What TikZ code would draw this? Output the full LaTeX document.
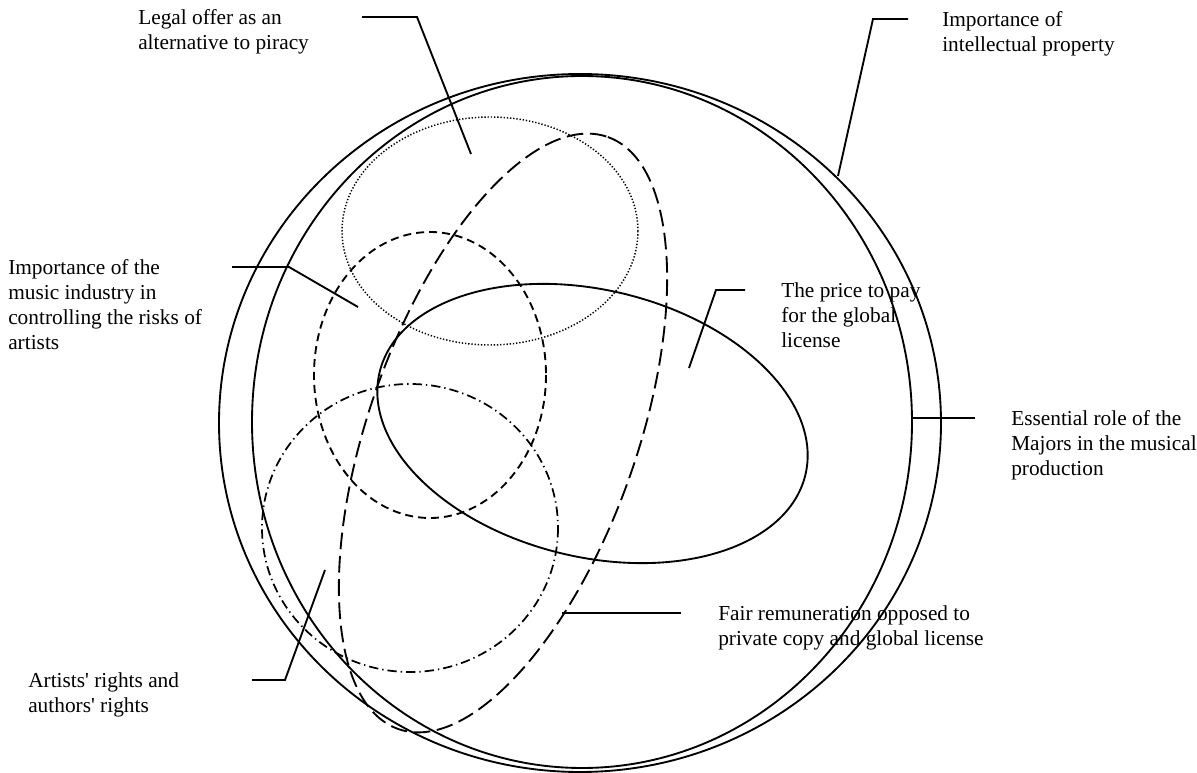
\documentclass[tikz,border=0pt]{standalone}
\usepackage{fontspec}
\setmainfont{Liberation Serif}
\usepackage{tikz}
\tikzstyle{labeltext} = [anchor=north west, inner sep=0pt, align=left, font=\fontsize{16}{18.75}\selectfont]
\tikzstyle{leader} = [line width=1.4pt]
\tikzstyle{solidset} = [line width=1.4pt]
\tikzstyle{dotset} = [line width=1.1pt, dash pattern=on 1pt off 1.4pt]
\tikzstyle{dashset} = [line width=1.4pt, dash pattern=on 6pt off 3.75pt]
\tikzstyle{longdashset} = [line width=1.4pt, dash pattern=on 12.5pt off 5pt]
\tikzstyle{dashdotset} = [line width=1.3pt, dash pattern=on 7pt off 3pt on 1pt off 3pt]

\begin{document}
\begin{tikzpicture}[x=0.75pt, y=-0.75pt]
\useasboundingbox (0,0) rectangle (1197,773);

% the sets
\draw [solidset] (580,423) ellipse [x radius=361, y radius=349];
\draw [solidset] (582,422) ellipse [x radius=330, y radius=346];
\draw [dotset] (490,231) ellipse [x radius=148, y radius=114];
\draw [dashset] (430,375) ellipse [x radius=116, y radius=143];
\draw [dashdotset] (410,528) ellipse [x radius=148, y radius=144];
\draw [solidset, rotate around={-13.6:(592.5,423.5)}] (592.5,423.5) ellipse [x radius=219, y radius=133.5];
\draw [longdashset, rotate around={70.5:(503,433)}] (503,433) ellipse [x radius=314, y radius=134];

% labels
\node (legal) [labeltext] at (138,9.5) {Legal offer as an\\alternative to piracy};
\node (property) [labeltext] at (942,11.5) {Importance of\\intellectual property};
\node (industry) [labeltext] at (8,259.5) {Importance of the\\music industry in\\controlling the risks of\\artists};
\node (price) [labeltext] at (781,282.5) {The price to pay\\for the global\\license};
\node (majors) [labeltext] at (1011,410.5) {Essential role of the\\Majors in the musical\\production};
\node (fair) [labeltext] at (718,605.5) {Fair remuneration opposed to\\private copy and global license};
\node (rights) [labeltext] at (28,672.5) {Artists\textquotesingle{} rights and\\authors\textquotesingle{} rights};

% leader lines
\coordinate (legalA) at (362,17);
\coordinate (legalB) at (417,17);
\coordinate (legalC) at (471,154);
\coordinate (propertyA) at (908,19);
\coordinate (propertyB) at (873,19);
\coordinate (propertyC) at (838,176);
\coordinate (industryA) at (232,267);
\coordinate (industryB) at (289,267);
\coordinate (industryC) at (358,307);
\coordinate (priceA) at (745,290);
\coordinate (priceB) at (716,290);
\coordinate (priceC) at (689,368);
\coordinate (majorsA) at (975,418);
\coordinate (majorsB) at (912,418);
\coordinate (fairA) at (681,613);
\coordinate (fairB) at (562,613);
\coordinate (rightsA) at (252,680);
\coordinate (rightsB) at (285,680);
\coordinate (rightsC) at (325,570);

\draw [leader] (legalA) -- (legalB) -- (legalC);
\draw [leader] (propertyA) -- (propertyB) -- (propertyC);
\draw [leader] (industryA) -- (industryB) -- (industryC);
\draw [leader] (priceA) -- (priceB) -- (priceC);
\draw [leader] (majorsA) -- (majorsB);
\draw [leader] (fairA) -- (fairB);
\draw [leader] (rightsA) -- (rightsB) -- (rightsC);
\end{tikzpicture}
\end{document}
